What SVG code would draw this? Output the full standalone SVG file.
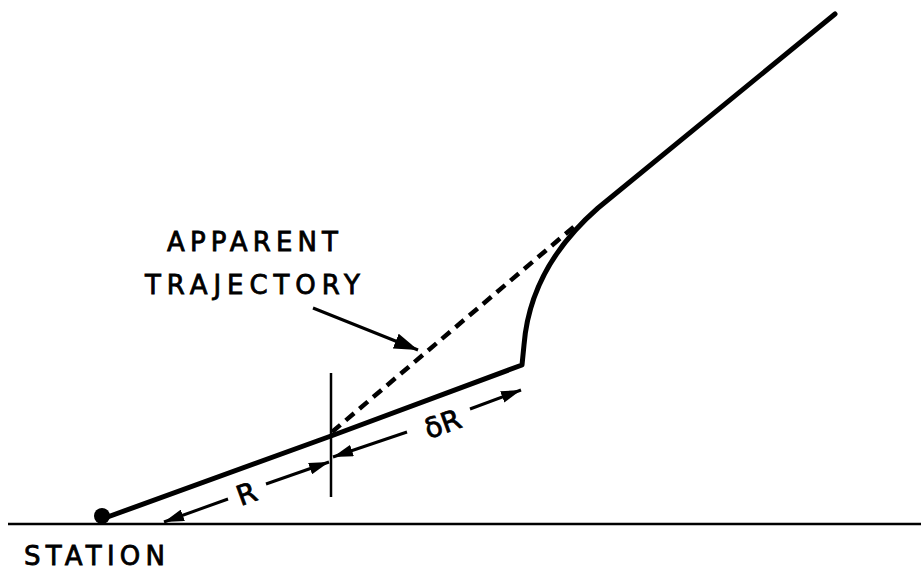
<svg xmlns="http://www.w3.org/2000/svg" width="921" height="578" viewBox="0 0 921 578">
<style>
.lbl{font-family:"DejaVu Sans","Liberation Sans",Arial,sans-serif;font-size:26px;fill:#000;stroke:#000;stroke-width:0.8}
.big{font-size:28px}
.thick{fill:none;stroke:#000;stroke-width:5;stroke-linecap:round;stroke-linejoin:round}
.dim{fill:none;stroke:#000;stroke-width:3}
</style>
<defs>
<marker id="ah" viewBox="0 0 20 12" refX="20" refY="6" markerWidth="20" markerHeight="12" markerUnits="userSpaceOnUse" orient="auto">
<path d="M0,0 L20,6 L0,12 Z" fill="#000"/>
</marker>
<marker id="ah2" viewBox="0 0 24 16" refX="24" refY="8" markerWidth="24" markerHeight="16" markerUnits="userSpaceOnUse" orient="auto">
<path d="M0,0 L24,8 L0,16 Z" fill="#000"/>
</marker>
</defs>
<rect width="921" height="578" fill="#fff"/>
<g id="ground">
<line x1="8" y1="524" x2="921" y2="524" stroke="#000" stroke-width="2.5"/>
</g>
<g id="station">
<circle cx="102" cy="516" r="8" fill="#000"/>
<text class="lbl" x="24" y="565" textLength="141" lengthAdjust="spacing">STATION</text>
</g>
<g id="trajectory">
<path class="thick" d="M102,519 L331,436 L522,365 L524,345 C528,295 550,250 598,208 L835,14"/>
</g>
<g id="apparent-trajectory">
<line x1="332" y1="432" x2="576" y2="225" stroke="#000" stroke-width="4.5" stroke-dasharray="11 7"/>
<text class="lbl" x="167" y="251" textLength="171" lengthAdjust="spacing">APPARENT</text>
<text class="lbl" x="145" y="294" textLength="215" lengthAdjust="spacing">TRAJECTORY</text>
</g>
<g id="tick">
<line x1="331" y1="373" x2="331" y2="497" stroke="#000" stroke-width="2.5"/>
</g>
<g id="label-R">
<text class="lbl big" x="0" y="0" text-anchor="middle" transform="translate(250,503) rotate(-20)">R</text>
</g>
<g id="label-dR">
<text class="lbl big" x="0" y="0" text-anchor="middle" transform="translate(446,433) rotate(-20)">δR</text>
</g>
<g id="connectors">
<line class="dim" x1="313" y1="308" x2="418" y2="350" marker-end="url(#ah2)"/>
<line class="dim" x1="228" y1="499" x2="164" y2="522" marker-end="url(#ah)"/>
<line class="dim" x1="266" y1="484" x2="329" y2="462" marker-end="url(#ah)"/>
<line class="dim" x1="407" y1="432" x2="333" y2="457" marker-end="url(#ah)"/>
<line class="dim" x1="470" y1="409" x2="521" y2="390" marker-end="url(#ah)"/>
</g>
</svg>
